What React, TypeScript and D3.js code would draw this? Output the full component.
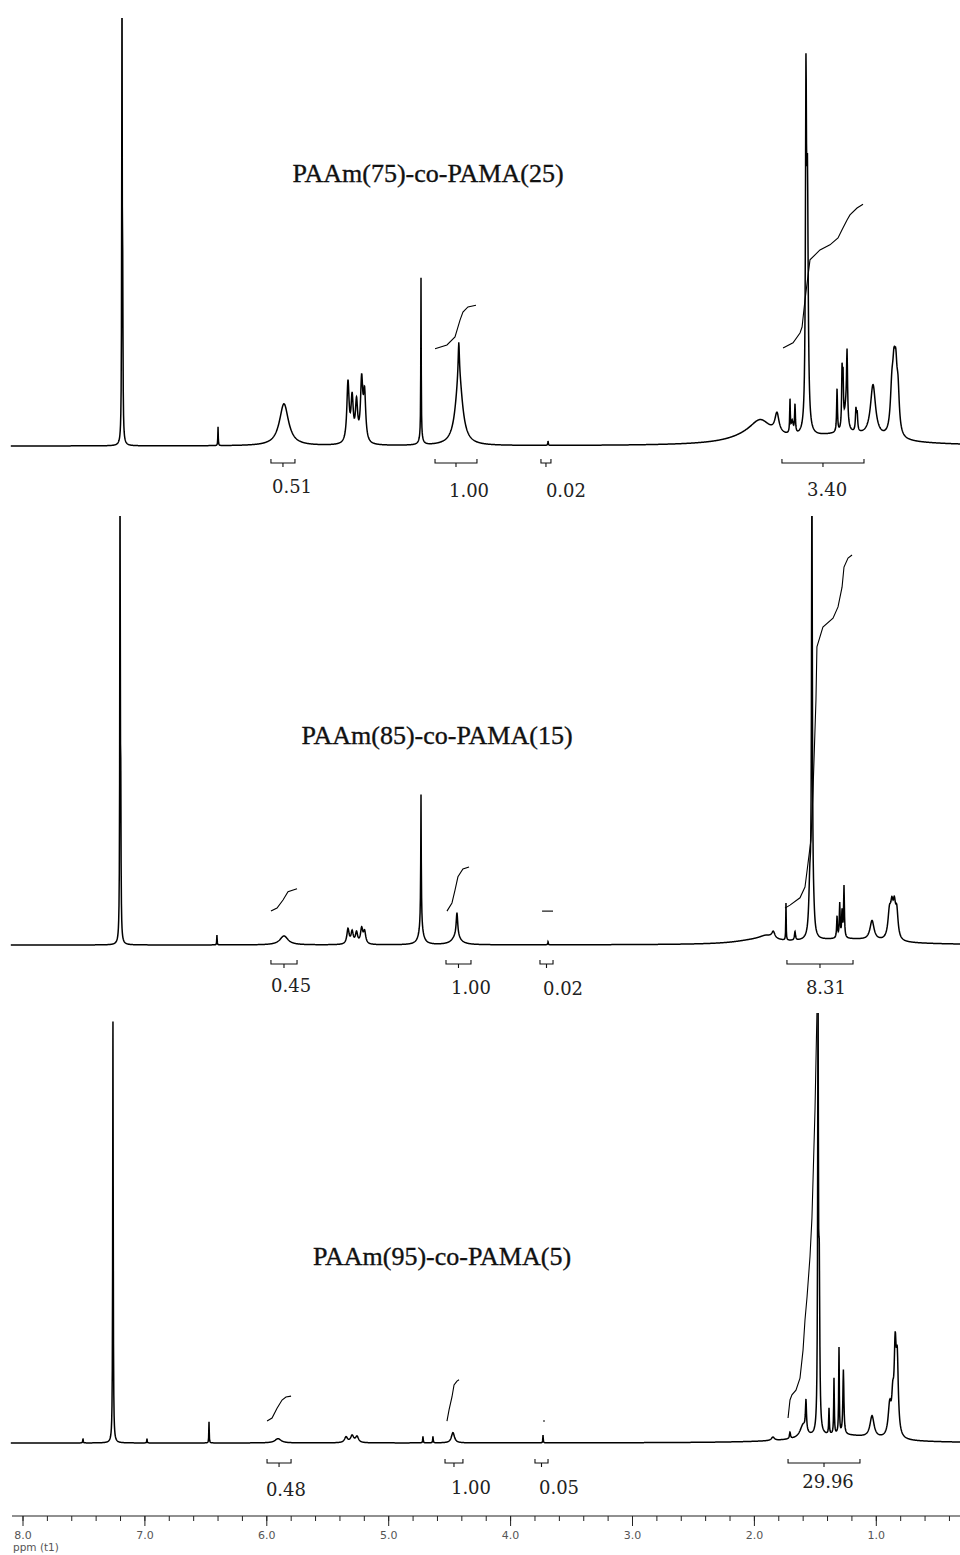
import * as d3 from "d3";

// [ppm, height (% of panel), fwhm (ppm)]
type Peak = [number, number, number];
type Pt = [number, number];
type Bracket = [number, number, string, number];

const TITLES = ["PAAm(75)-co-PAMA(25)", "PAAm(85)-co-PAMA(15)", "PAAm(95)-co-PAMA(5)"];

const PEAKS_75: Peak[] = [
  [7.188, 106, 0.005], [7.182, 30, 0.005],
  [6.4, 4.4, 0.004],
  [5.859, 9.8, 0.09],
  [5.334, 14, 0.022], [5.3, 10, 0.022], [5.264, 9, 0.022], [5.222, 14, 0.022], [5.198, 11, 0.022],
  [4.735, 37, 0.004], [4.735, 2, 0.03],
  [4.423, 16, 0.07], [4.425, 8, 0.012],
  [3.693, 1, 0.005],
  [2.0, 2, 0.45], [1.95, 3.5, 0.2], [1.815, 4.5, 0.04],
  [1.708, 7.5, 0.006], [1.69, 3, 0.02], [1.667, 6.5, 0.008],
  [1.577, 74, 0.01], [1.565, 55, 0.015],
  [1.322, 10, 0.008], [1.281, 13, 0.008], [1.273, 11, 0.008], [1.25, 5, 0.03], [1.24, 16, 0.01],
  [1.167, 5, 0.01], [1.157, 4, 0.01],
  [1.027, 12, 0.05],
  [0.872, 10, 0.03], [0.855, 11, 0.025], [0.84, 12, 0.025], [0.822, 9, 0.025],
  [1.25, 2.5, 0.8],
];

const PEAKS_85: Peak[] = [
  [7.204, 106, 0.005], [7.198, 28, 0.005],
  [6.409, 2.3, 0.004],
  [5.859, 2.1, 0.08],
  [5.334, 3.5, 0.022], [5.3, 2.8, 0.022], [5.264, 2.6, 0.022], [5.222, 3.5, 0.022], [5.198, 2.8, 0.022],
  [4.735, 24, 0.004], [4.735, 8, 0.012], [4.735, 3, 0.05],
  [4.44, 5.5, 0.015], [4.445, 2, 0.08],
  [3.693, 0.7, 0.005],
  [2.0, 0.8, 0.4], [1.9, 1.2, 0.15], [1.845, 1.5, 0.03],
  [1.741, 8.6, 0.004],
  [1.667, 2, 0.01],
  [1.528, 106, 0.008], [1.545, 12, 0.02], [1.515, 4, 0.02],
  [1.322, 5, 0.008], [1.3, 8, 0.008], [1.281, 6, 0.008], [1.265, 12, 0.008],
  [1.035, 4.5, 0.04],
  [0.892, 6, 0.03], [0.872, 6, 0.025], [0.852, 6.5, 0.025], [0.832, 6, 0.025],
  [1.25, 1.3, 0.8],
];

const PEAKS_95: Peak[] = [
  [7.508, 1, 0.005],
  [7.262, 98, 0.005],
  [6.983, 1, 0.004],
  [6.474, 4.9, 0.004],
  [5.908, 1, 0.06],
  [5.35, 1.3, 0.03], [5.3, 1.6, 0.03], [5.26, 1.4, 0.03],
  [4.719, 1.5, 0.005], [4.637, 1.5, 0.005],
  [4.473, 2.4, 0.03],
  [3.734, 1.8, 0.004],
  [1.848, 0.8, 0.03],
  [1.708, 1.5, 0.01],
  [1.6, 3, 0.06], [1.577, 7, 0.01],
  [1.478, 100, 0.007], [1.468, 35, 0.01],
  [1.388, 6, 0.006], [1.347, 13, 0.006], [1.306, 20, 0.006], [1.27, 15, 0.01],
  [1.035, 5, 0.04],
  [0.89, 7, 0.03], [0.865, 7, 0.02], [0.845, 19, 0.02], [0.828, 16, 0.02],
  [1.3, 1.8, 0.7],
];

// integral curves: [ppm, height %]
const INTEGRALS_75: Pt[][] = [
  [[4.62, 22.7], [4.522, 23.6], [4.456, 25.5], [4.415, 29.4], [4.391, 31.3], [4.35, 32.5], [4.284, 32.9]],
  [[1.765, 22.9], [1.683, 24.1], [1.626, 26.4], [1.609, 27.8], [1.585, 34.1], [1.544, 43.5], [1.462, 45.8],
   [1.38, 47.0], [1.314, 48.6], [1.281, 50.5], [1.24, 52.8], [1.216, 54.0], [1.158, 55.6], [1.109, 56.5]],
];

const INTEGRALS_85: Pt[][] = [
  [[5.966, 7.9], [5.916, 8.6], [5.867, 10.5], [5.826, 12.4], [5.752, 13.1]],
  [[4.522, 7.9], [4.481, 9.8], [4.456, 12.8], [4.432, 15.9], [4.391, 17.7], [4.341, 18.2]],
  [[3.742, 7.9], [3.652, 7.9]],
  [[1.749, 8.6], [1.708, 9.3], [1.626, 11.0], [1.585, 13.5], [1.56, 19.1], [1.536, 24.5], [1.519, 36.1],
   [1.495, 57.1], [1.487, 69.5], [1.438, 74.1], [1.355, 76.2], [1.314, 78.8], [1.281, 83.4], [1.265, 88.1],
   [1.232, 90.2], [1.199, 90.9]],
];

const INTEGRALS_95: Pt[][] = [
  [[5.998, 5.1], [5.957, 5.8], [5.916, 8.1], [5.875, 10.0], [5.843, 10.7], [5.801, 10.9]],
  [[4.522, 5.1], [4.505, 7.7], [4.481, 10.7], [4.464, 13.5], [4.44, 14.4], [4.423, 14.7]],
  [[3.734, 5.1], [3.718, 5.1]],
  [[1.724, 5.8], [1.708, 10.0], [1.692, 11.2], [1.659, 12.3], [1.626, 15.1], [1.601, 21.6], [1.585, 28.6],
   [1.568, 34.0], [1.544, 43.3], [1.528, 52.3], [1.519, 61.2], [1.503, 77.4], [1.487, 100], [1.47, 112]],
];

// [from ppm, to ppm, value, label ppm]
const BRACKETS_75: Bracket[] = [
  [5.966, 5.769, "0.51", 5.793],
  [4.62, 4.276, "1.00", 4.341],
  [3.751, 3.669, "0.02", 3.546],
  [1.774, 1.101, "3.40", 1.404],
];
const BRACKETS_85: Bracket[] = [
  [5.966, 5.752, "0.45", 5.801],
  [4.53, 4.325, "1.00", 4.325],
  [3.759, 3.652, "0.02", 3.57],
  [1.733, 1.191, "8.31", 1.413],
];
const BRACKETS_95: Bracket[] = [
  [5.998, 5.801, "0.48", 5.843],
  [4.538, 4.391, "1.00", 4.325],
  [3.8, 3.693, "0.05", 3.603],
  [1.724, 1.134, "29.96", 1.396],
];

const MAJOR_TICKS = [8, 7, 6, 5, 4, 3, 2, 1];
const AXIS_TITLE = "ppm (t1)";

const PANELS = [
  { title: TITLES[0], peaks: PEAKS_75, integrals: INTEGRALS_75, brackets: BRACKETS_75,
    baseline: 446, top: 18, titleX: 428, titleY: 182, bracketY: 463, labelY: [493, 497, 497, 496] },
  { title: TITLES[1], peaks: PEAKS_85, integrals: INTEGRALS_85, brackets: BRACKETS_85,
    baseline: 945, top: 516, titleX: 437, titleY: 744, bracketY: 964, labelY: [992, 994, 995, 994] },
  { title: TITLES[2], peaks: PEAKS_95, integrals: INTEGRALS_95, brackets: BRACKETS_95,
    baseline: 1443, top: 1013, titleX: 442, titleY: 1265, bracketY: 1463, labelY: [1496, 1494, 1494, 1488] },
];

const WIDTH = 960;
const HEIGHT = 1555;
const AXIS_Y = 1516;

const x = d3.scaleLinear().domain([8, 1]).range([23, 876.3]);

const lorentz = (peaks: Peak[], p: number) => {
  let s = 0;
  for (const [c, h, w] of peaks) {
    const t = (p - c) / (w / 2);
    s += h / (1 + t * t);
  }
  return s;
};

const spectrum = (peaks: Peak[]): Pt[] => {
  const grid = d3.range(8.1, 0.3, -0.0025).concat(peaks.map((d) => d[0]));
  grid.sort((a, b) => b - a);
  return grid.map((p) => [p, lorentz(peaks, p)]);
};

const Panel = ({ panel, i }: { panel: (typeof PANELS)[number]; i: number }) => {
  const y = d3.scaleLinear().domain([0, 100]).range([panel.baseline, panel.top]);
  const line = d3
    .line<Pt>()
    .x((d) => x(d[0]))
    .y((d) => y(d[1]));
  const data = spectrum(panel.peaks);
  const clipId = `clip-${i}`;
  return (
    <g>
      <defs>
        <clipPath id={clipId}>
          <rect x={0} y={panel.top} width={WIDTH} height={panel.baseline - panel.top + 40} />
        </clipPath>
      </defs>
      <text
        x={panel.titleX}
        y={panel.titleY}
        textAnchor="middle"
        fontFamily="'Liberation Serif', 'Times New Roman', serif"
        fontSize={26}
        fill="#111"
        stroke="#111"
        strokeWidth={0.35}
      >
        {panel.title}
      </text>
      <g clipPath={`url(#${clipId})`}>
        <path d={line(data) ?? ""} fill="none" stroke="#000" strokeWidth={1.5} />
        {panel.integrals.map((pts, k) => (
          <path key={k} d={line(pts) ?? ""} fill="none" stroke="#000" strokeWidth={1.1} />
        ))}
      </g>
      {panel.brackets.map(([a, b, label, lp], k) => {
        const x0 = x(a);
        const x1 = x(b);
        const xm = (x0 + x1) / 2;
        const by = panel.bracketY;
        return (
          <g key={k}>
            <path
              d={`M${x0},${by - 4}V${by}H${x1}V${by - 4}M${xm},${by}V${by + 4}`}
              fill="none"
              stroke="#111"
              strokeWidth={1.1}
            />
            <text
              x={x(lp)}
              y={panel.labelY[k]}
              textAnchor="middle"
              fontFamily="'DejaVu Serif', serif"
              fontSize={18}
              fill="#222"
            >
              {label}
            </text>
          </g>
        );
      })}
    </g>
  );
};

const Axis = () => {
  const minor = d3.range(8, 0.3, -0.2);
  return (
    <g>
      <line x1={12} x2={WIDTH} y1={AXIS_Y} y2={AXIS_Y} stroke="#222" strokeWidth={1.2} />
      {minor.map((t, k) => (
        <line key={k} x1={x(t)} x2={x(t)} y1={AXIS_Y} y2={AXIS_Y + 5} stroke="#222" strokeWidth={1} />
      ))}
      {MAJOR_TICKS.map((t) => (
        <g key={t}>
          <line x1={x(t)} x2={x(t)} y1={AXIS_Y} y2={AXIS_Y + 10} stroke="#222" strokeWidth={1} />
          <text
            x={x(t)}
            y={AXIS_Y + 23}
            textAnchor="middle"
            fontFamily="'DejaVu Sans', sans-serif"
            fontSize={11}
            fill="#555"
          >
            {t.toFixed(1)}
          </text>
        </g>
      ))}
      <text x={13} y={AXIS_Y + 35} fontFamily="'DejaVu Sans', sans-serif" fontSize={10.5} fill="#555">
        {AXIS_TITLE}
      </text>
    </g>
  );
};

export default function App() {
  return (
    <svg
      width={WIDTH}
      height={HEIGHT}
      style={{ position: "absolute", left: 0, top: 0, background: "#fff" }}
    >
      <rect width={WIDTH} height={HEIGHT} fill="#fff" />
      {PANELS.map((p, i) => (
        <Panel key={i} panel={p} i={i} />
      ))}
      <Axis />
    </svg>
  );
}
